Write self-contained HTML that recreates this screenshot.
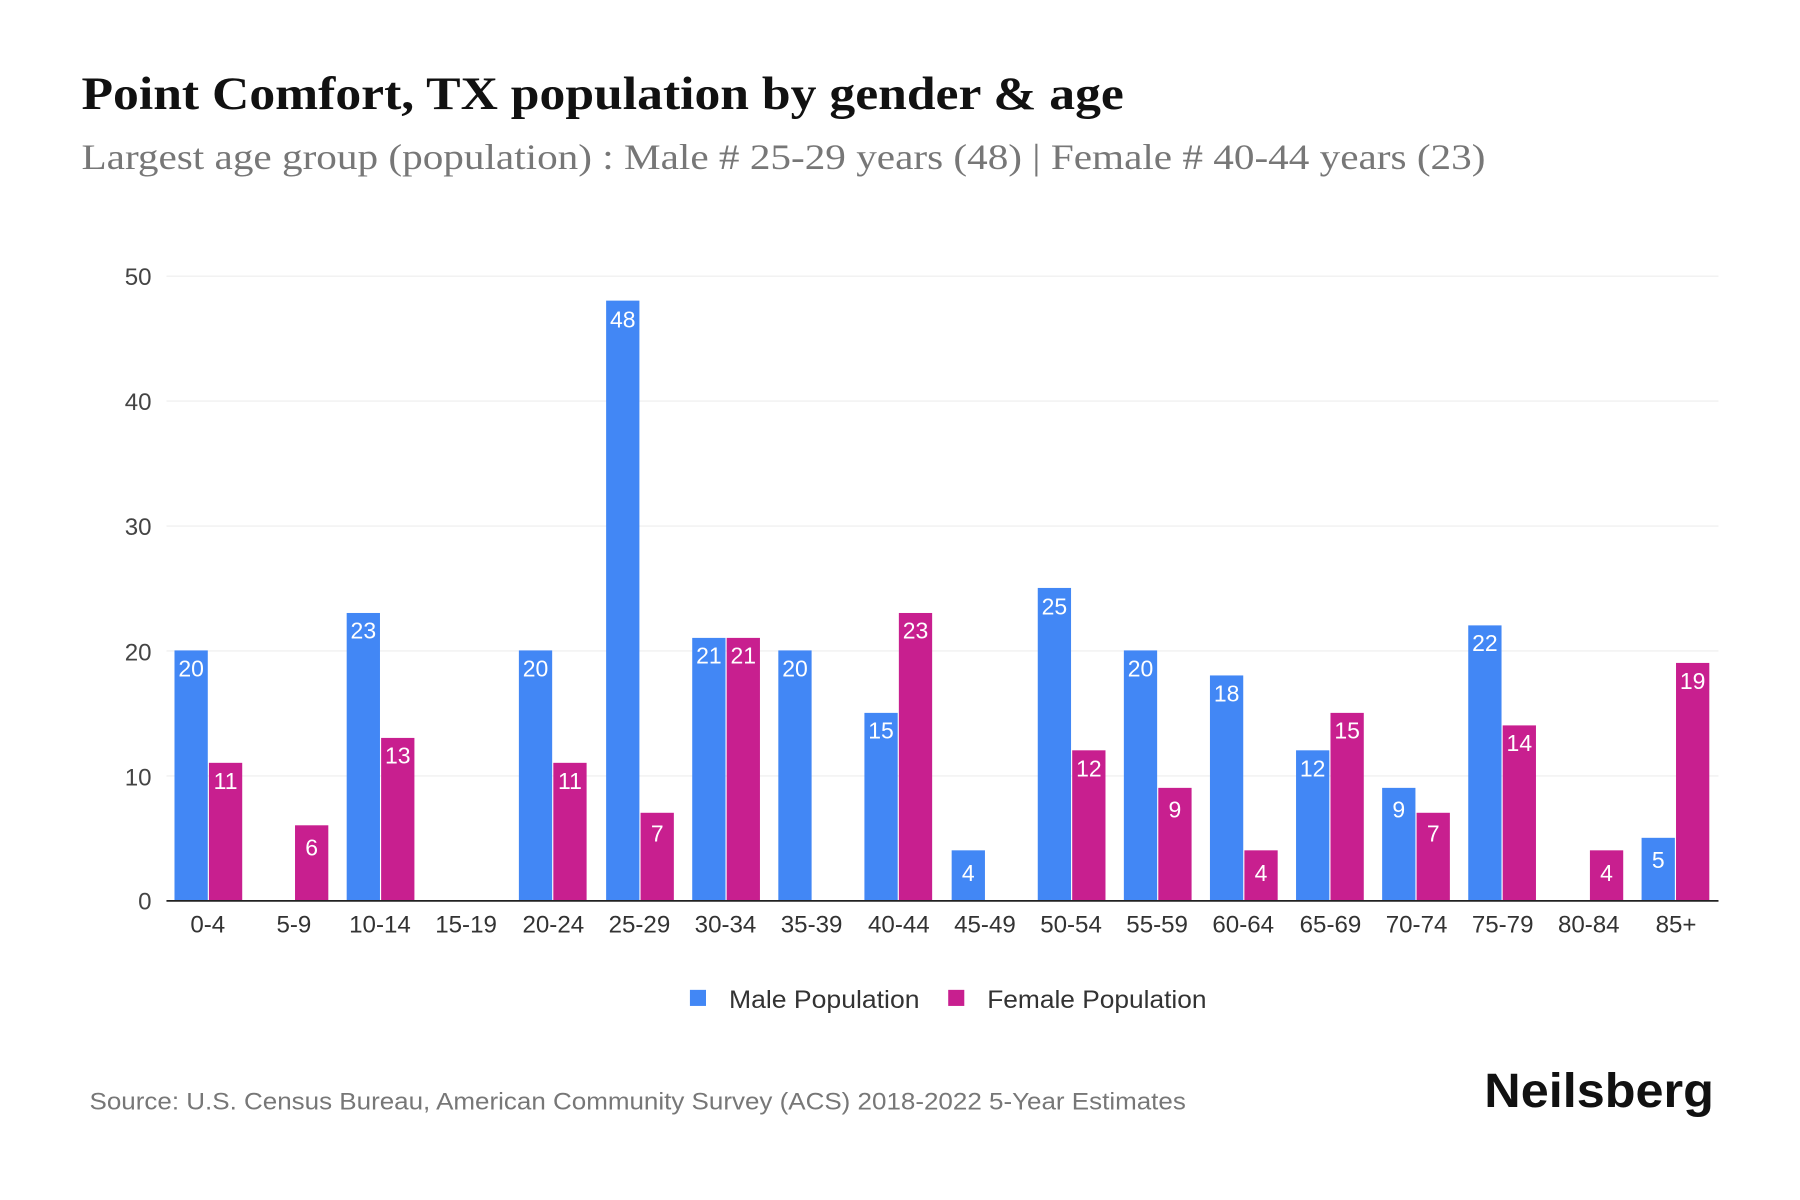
<!DOCTYPE html>
<html><head><meta charset="utf-8"><style>
html,body{margin:0;padding:0;background:#fff;}
svg{display:block;}
</style></head><body>
<svg width="1800" height="1200" viewBox="0 0 1568 1045" preserveAspectRatio="none" xmlns="http://www.w3.org/2000/svg">
<rect width="1568" height="1045" fill="#fff"/>
<text x="71" y="95" font-family="Liberation Serif, serif" font-weight="bold" font-size="41" fill="#111" textLength="908" lengthAdjust="spacingAndGlyphs">Point Comfort, TX population by gender &amp; age</text>
<text x="71" y="147" font-family="Liberation Serif, serif" font-size="31" fill="#777" textLength="1223" lengthAdjust="spacingAndGlyphs">Largest age group (population) : Male # 25-29 years (48) | Female # 40-44 years (23)</text>
<g stroke="#eee" stroke-width="1">
<line x1="145" x2="1497" y1="240.5" y2="240.5"/>
<line x1="145" x2="1497" y1="349.3" y2="349.3"/>
<line x1="145" x2="1497" y1="458.1" y2="458.1"/>
<line x1="145" x2="1497" y1="566.9" y2="566.9"/>
<line x1="145" x2="1497" y1="675.7" y2="675.7"/>
</g>
<g font-family="Liberation Sans, sans-serif" font-size="21" fill="#444" text-anchor="end">
<text x="132" y="248">50</text><text x="132" y="357">40</text><text x="132" y="466">30</text><text x="132" y="575">20</text><text x="132" y="684">10</text><text x="132" y="792">0</text>
</g>
<g font-family="Liberation Sans, sans-serif" font-size="20" fill="#fff" text-anchor="middle">
<rect x="152" y="566.4" width="29" height="217.6" fill="#4287f5"/><text x="166.5" y="589">20</text>
<rect x="182" y="664.3" width="29" height="119.7" fill="#c81f8f"/><text x="196.5" y="687">11</text>
<rect x="257" y="718.7" width="29" height="65.3" fill="#c81f8f"/><text x="271.5" y="745">6</text>
<rect x="302" y="533.8" width="29" height="250.2" fill="#4287f5"/><text x="316.5" y="556">23</text>
<rect x="332" y="642.6" width="29" height="141.4" fill="#c81f8f"/><text x="346.5" y="665">13</text>
<rect x="452" y="566.4" width="29" height="217.6" fill="#4287f5"/><text x="466.5" y="589">20</text>
<rect x="482" y="664.3" width="29" height="119.7" fill="#c81f8f"/><text x="496.5" y="687">11</text>
<rect x="528" y="261.8" width="29" height="522.2" fill="#4287f5"/><text x="542.5" y="285">48</text>
<rect x="558" y="707.8" width="29" height="76.2" fill="#c81f8f"/><text x="572.5" y="733">7</text>
<rect x="603" y="555.5" width="29" height="228.5" fill="#4287f5"/><text x="617.5" y="578">21</text>
<rect x="633" y="555.5" width="29" height="228.5" fill="#c81f8f"/><text x="647.5" y="578">21</text>
<rect x="678" y="566.4" width="29" height="217.6" fill="#4287f5"/><text x="692.5" y="589">20</text>
<rect x="753" y="620.8" width="29" height="163.2" fill="#4287f5"/><text x="767.5" y="643">15</text>
<rect x="783" y="533.8" width="29" height="250.2" fill="#c81f8f"/><text x="797.5" y="556">23</text>
<rect x="829" y="740.5" width="29" height="43.5" fill="#4287f5"/><text x="843.5" y="767">4</text>
<rect x="904" y="512" width="29" height="272" fill="#4287f5"/><text x="918.5" y="535">25</text>
<rect x="934" y="653.4" width="29" height="130.6" fill="#c81f8f"/><text x="948.5" y="676">12</text>
<rect x="979" y="566.4" width="29" height="217.6" fill="#4287f5"/><text x="993.5" y="589">20</text>
<rect x="1009" y="686.1" width="29" height="97.9" fill="#c81f8f"/><text x="1023.5" y="712">9</text>
<rect x="1054" y="588.2" width="29" height="195.8" fill="#4287f5"/><text x="1068.5" y="611">18</text>
<rect x="1084" y="740.5" width="29" height="43.5" fill="#c81f8f"/><text x="1098.5" y="767">4</text>
<rect x="1129" y="653.4" width="29" height="130.6" fill="#4287f5"/><text x="1143.5" y="676">12</text>
<rect x="1159" y="620.8" width="29" height="163.2" fill="#c81f8f"/><text x="1173.5" y="643">15</text>
<rect x="1204" y="686.1" width="29" height="97.9" fill="#4287f5"/><text x="1218.5" y="712">9</text>
<rect x="1234" y="707.8" width="29" height="76.2" fill="#c81f8f"/><text x="1248.5" y="733">7</text>
<rect x="1279" y="544.6" width="29" height="239.4" fill="#4287f5"/><text x="1293.5" y="567">22</text>
<rect x="1309" y="631.7" width="29" height="152.3" fill="#c81f8f"/><text x="1323.5" y="654">14</text>
<rect x="1385" y="740.5" width="29" height="43.5" fill="#c81f8f"/><text x="1399.5" y="767">4</text>
<rect x="1430" y="729.6" width="29" height="54.4" fill="#4287f5"/><text x="1444.5" y="756">5</text>
<rect x="1460" y="577.3" width="29" height="206.7" fill="#c81f8f"/><text x="1474.5" y="600">19</text>
</g>
<line x1="145" x2="1497" y1="784.5" y2="784.5" stroke="#222" stroke-width="1.5"/>
<g font-family="Liberation Sans, sans-serif" font-size="21" fill="#333" text-anchor="middle">
<text x="181" y="812">0-4</text><text x="256" y="812">5-9</text><text x="331" y="812">10-14</text><text x="406" y="812">15-19</text><text x="482" y="812">20-24</text><text x="557" y="812">25-29</text><text x="632" y="812">30-34</text><text x="707" y="812">35-39</text><text x="783" y="812">40-44</text><text x="858" y="812">45-49</text><text x="933" y="812">50-54</text><text x="1008" y="812">55-59</text><text x="1083" y="812">60-64</text><text x="1159" y="812">65-69</text><text x="1234" y="812">70-74</text><text x="1309" y="812">75-79</text><text x="1384" y="812">80-84</text><text x="1460" y="812">85+</text>
</g>
<rect x="601" y="862" width="14" height="14" fill="#4287f5"/>
<text x="635" y="878" font-family="Liberation Sans, sans-serif" font-size="22" fill="#333" textLength="166" lengthAdjust="spacingAndGlyphs">Male Population</text>
<rect x="826" y="862" width="14" height="14" fill="#c81f8f"/>
<text x="860" y="878" font-family="Liberation Sans, sans-serif" font-size="22" fill="#333" textLength="191" lengthAdjust="spacingAndGlyphs">Female Population</text>
<text x="78" y="966" font-family="Liberation Sans, sans-serif" font-size="21" fill="#777" textLength="955" lengthAdjust="spacingAndGlyphs">Source: U.S. Census Bureau, American Community Survey (ACS) 2018-2022 5-Year Estimates</text>
<text x="1293" y="964" font-family="Liberation Sans, sans-serif" font-weight="bold" font-size="42" fill="#111" textLength="200" lengthAdjust="spacingAndGlyphs">Neilsberg</text>
</svg>
</body></html>
